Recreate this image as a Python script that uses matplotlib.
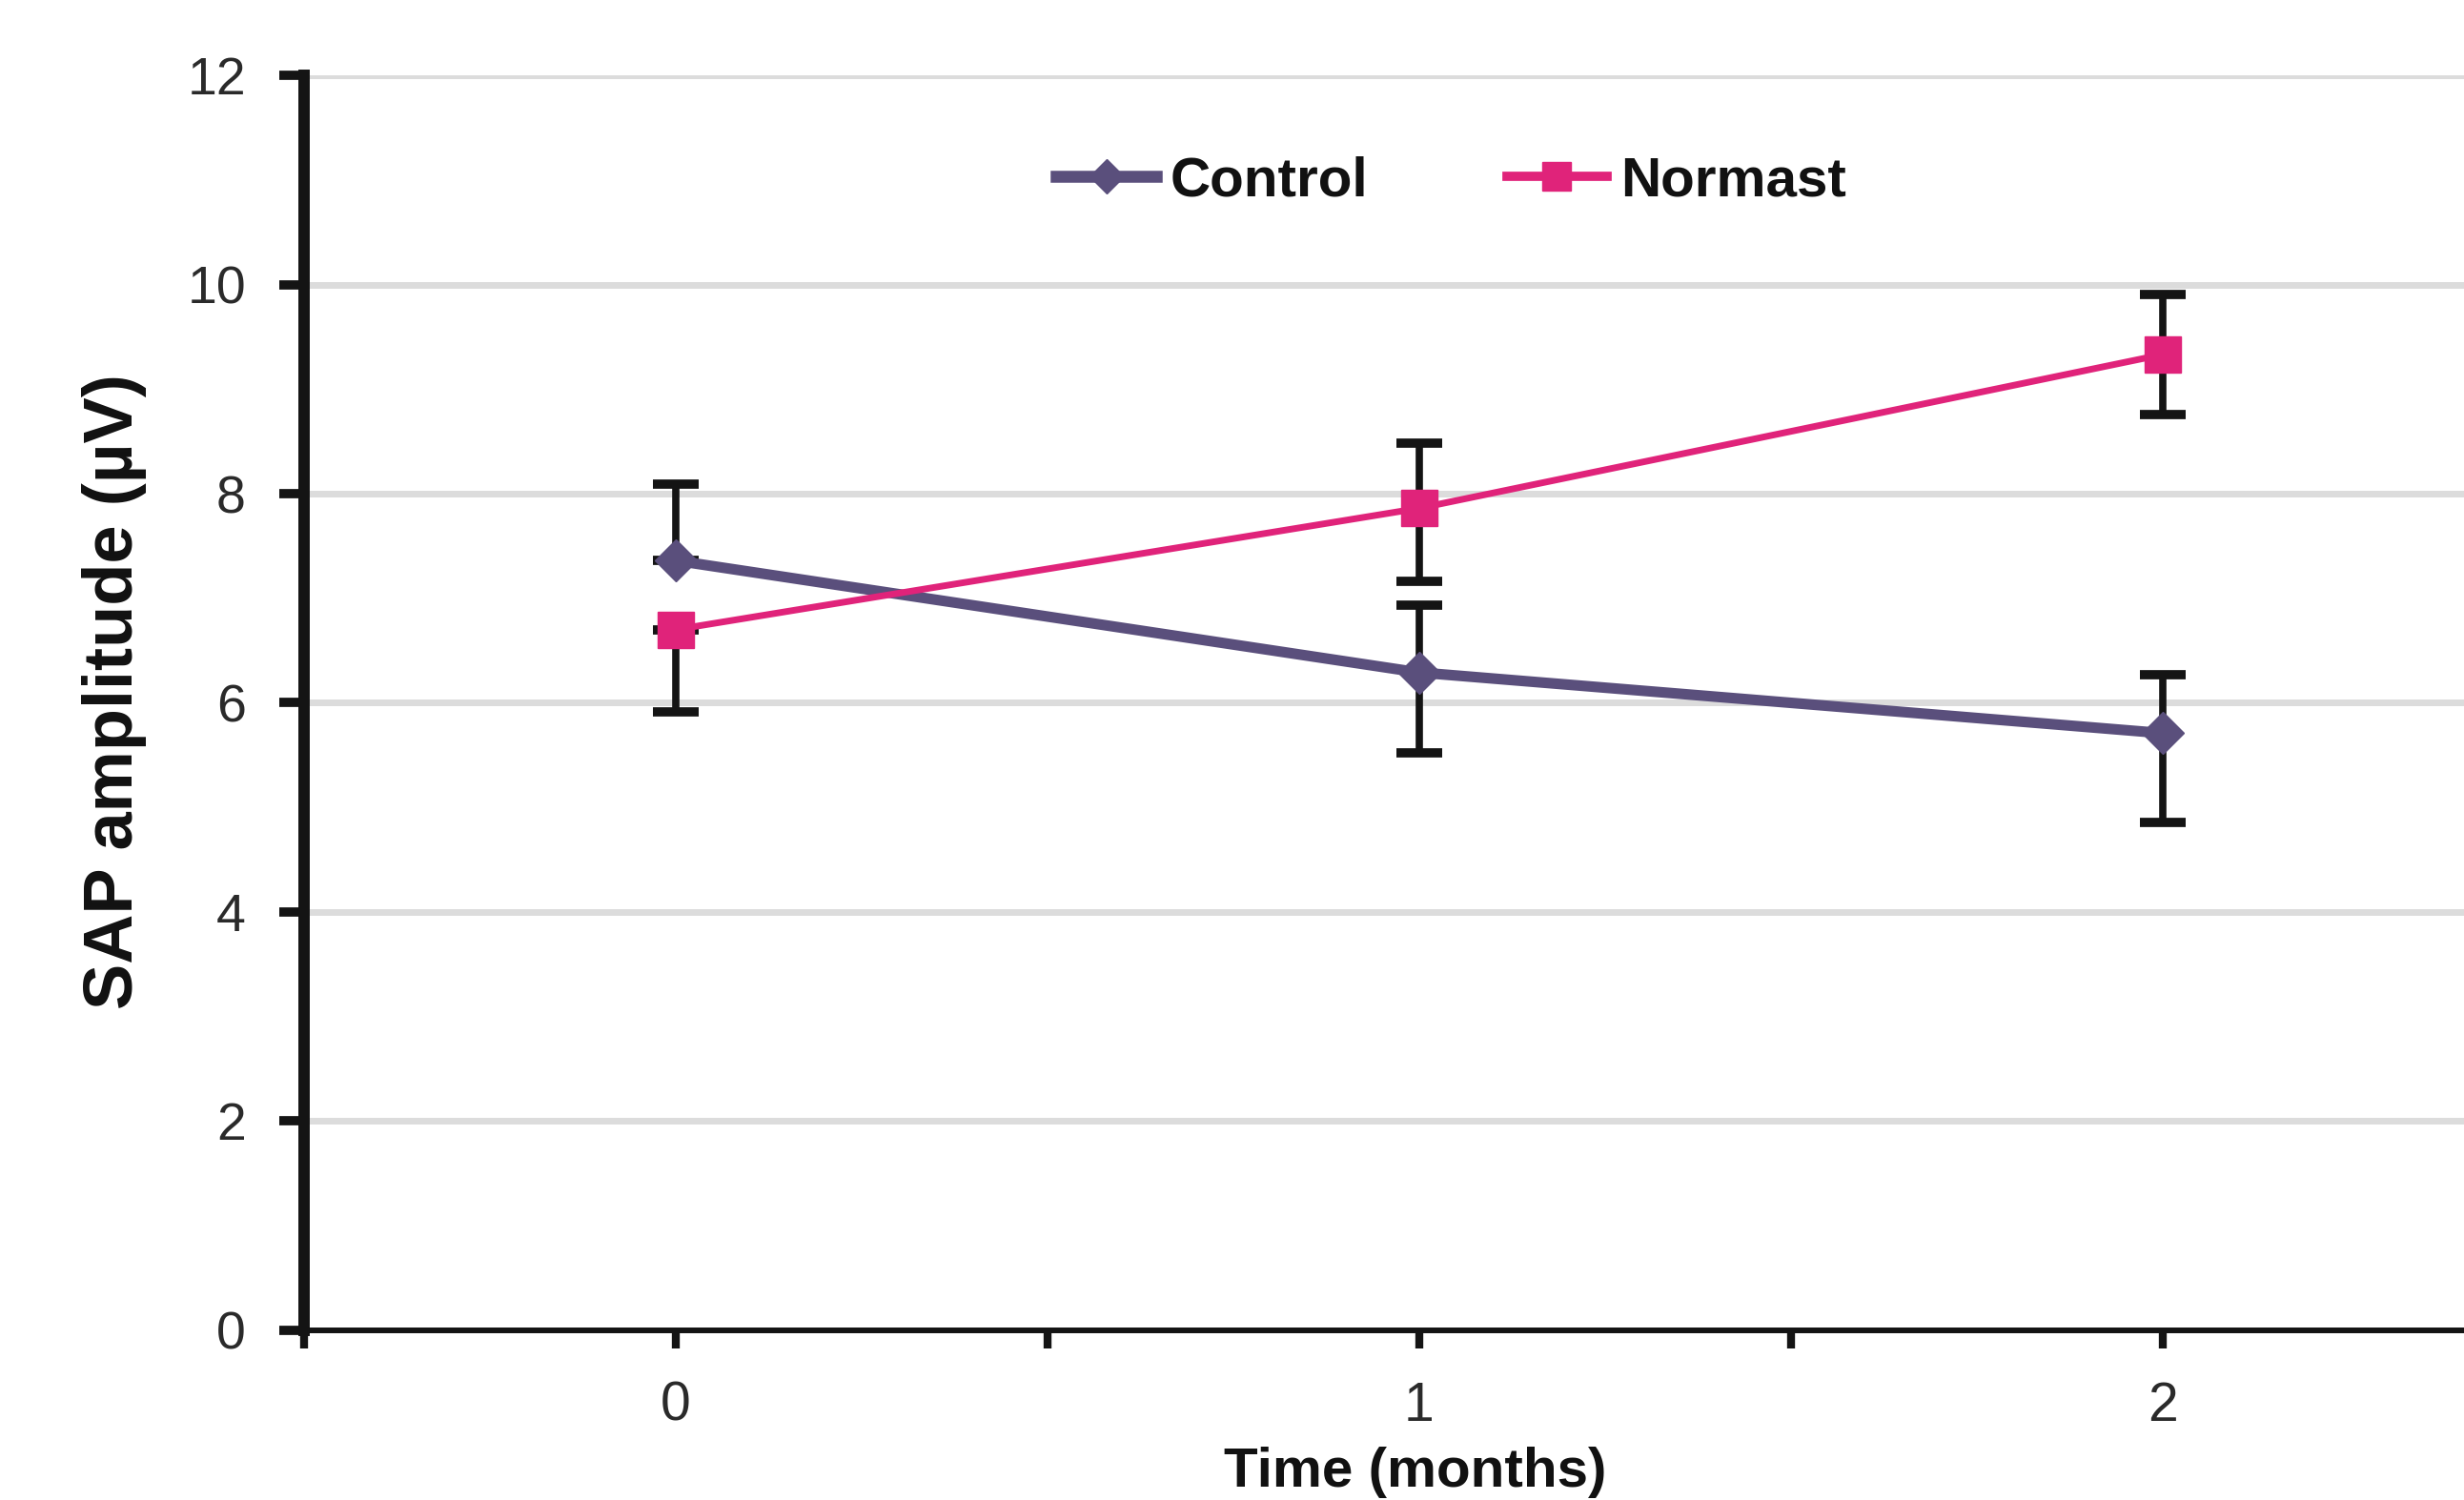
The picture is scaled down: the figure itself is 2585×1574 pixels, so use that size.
import matplotlib
matplotlib.use("Agg")
import matplotlib.pyplot as plt
from matplotlib.lines import Line2D
from matplotlib.ticker import FixedLocator

plt.rcParams["font.family"] = ["Liberation Sans", "DejaVu Sans"]

# data
time_months = [0, 1, 2]
control = [7.36, 6.29, 5.71]
control_err_low = [0.0, 0.77, 0.85]
control_err_high = [0.73, 0.64, 0.56]
normast = [6.70, 7.86, 9.33]
normast_err_low = [0.79, 0.70, 0.57]
normast_err_high = [0.0, 0.62, 0.57]
y_ticks = [0, 2, 4, 6, 8, 10, 12]
x_labels = ["0", "1", "2"]

color_control = "#5a4f7c"
color_normast = "#e0237a"
color_err = "#141414"

fig = plt.figure(figsize=(25.85, 15.74), dpi=100)
ax = fig.add_axes([0.1234, 0.1131, 0.905, 0.8367])

ax.errorbar(time_months, control, yerr=[control_err_low, control_err_high],
            color=color_control, lw=8, marker="D", markersize=22,
            ecolor=color_err, elinewidth=5.5, capsize=17, capthick=7,
            zorder=3)
ax.errorbar(time_months, normast, yerr=[normast_err_low, normast_err_high],
            color=color_normast, lw=5, marker="s", markersize=27,
            ecolor=color_err, elinewidth=5.5, capsize=17, capthick=7,
            zorder=4)

ax.set_xlim(-0.5, 2.5)
ax.set_ylim(0, 12)
ax.set_yticks(y_ticks)
ax.set_xticks(time_months)
ax.set_xticklabels(x_labels)
ax.xaxis.set_minor_locator(FixedLocator([-0.5, 0.5, 1.5, 2.5]))

ax.grid(axis="y", color="#dcdcdc", lw=5, zorder=0)
ax.set_axisbelow(True)

for side in ["top", "right"]:
    ax.spines[side].set_visible(False)
ax.spines["left"].set_linewidth(8.6)
ax.spines["left"].set_color("#141414")
ax.spines["bottom"].set_linewidth(4.3)
ax.spines["bottom"].set_color("#141414")
ax.spines["left"].set_zorder(5)

ax.tick_params(axis="y", direction="out", length=19, width=7, color="#141414",
               labelsize=40, labelcolor="#2a2a2a", pad=25)
ax.tick_params(axis="x", which="both", direction="out", length=14, width=6,
               color="#141414", labelsize=41, labelcolor="#2a2a2a", pad=24)

fig.text(0.0466, 0.539, "SAP amplitude (\u00b5V)", rotation=90, fontsize=52,
         fontweight="bold", ha="center", va="center", color="#111111")
fig.text(0.5745, 0.0089, "Time (months)", fontsize=42, fontweight="bold",
         ha="center", va="baseline", color="#111111")

handles = [
    Line2D([], [], color=color_control, lw=9, marker="D", markersize=18),
    Line2D([], [], color=color_normast, lw=7, marker="s", markersize=21),
]
leg = ax.legend(handles, ["Control", "Normast"], loc="center",
                bbox_to_anchor=(0.589, 0.879), bbox_transform=fig.transFigure,
                ncol=2, frameon=False, fontsize=42, handlelength=1.8,
                handletextpad=0.24, columnspacing=2.5)
for text in leg.get_texts():
    text.set_fontweight("bold")
    text.set_color("#111111")

fig.savefig("out.png", dpi=100)
